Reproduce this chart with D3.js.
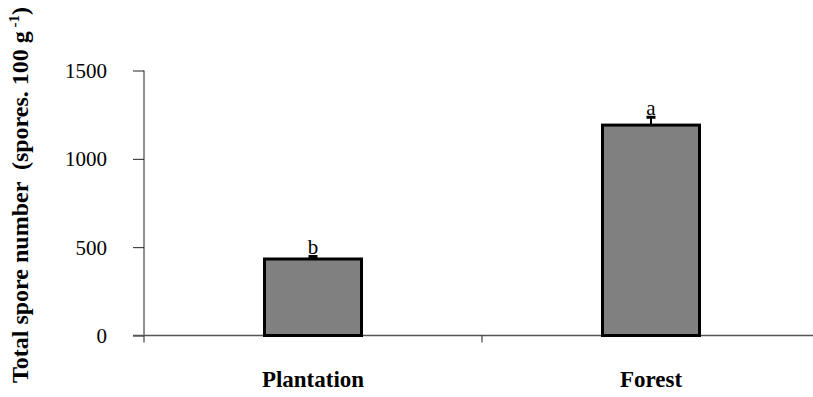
<!DOCTYPE html>
<html>
<head>
<meta charset="utf-8">
<script src="https://cdn.jsdelivr.net/npm/d3@7"></script>
<style>
  body { margin: 0; background: #fff; }
</style>
</head>
<body>
<div id="chart"></div>
<script>
var categories = ["Plantation", "Forest"];
var values = [433, 1191];
var errors = [20, 50];
var letters = ["b", "a"];
var yTicks = [0, 500, 1000, 1500];

var width = 813, height = 397;
var mLeft = 144, mRight = 820, mTop = 70.5, mBottom = 335.5;
var serif = "'Liberation Serif'";

var svg = d3.select("#chart").append("svg")
  .attr("width", width)
  .attr("height", height);

var x = d3.scaleBand().domain(categories).range([mLeft, mRight]);
var y = d3.scaleLinear().domain([0, 1500]).range([mBottom, mTop]);
var barW = 97;

// y axis
var yAxis = svg.append("g")
  .attr("transform", "translate(" + mLeft + ",0)")
  .call(d3.axisLeft(y).tickValues(yTicks).tickFormat(d3.format("d")).tickSize(11).tickPadding(26).tickSizeOuter(0));
yAxis.attr("font-family", "Liberation Serif");
yAxis.select(".domain").attr("stroke", "#222").attr("d", "M0," + mTop + "V" + (mBottom + 7));
yAxis.selectAll(".tick line").attr("stroke", "#222");
yAxis.selectAll(".tick text").attr("font-size", 21).attr("fill", "#000")
  .style("font-family", serif).attr("dy", "0.34em");

// x axis
var xAxis = svg.append("g")
  .attr("transform", "translate(0," + mBottom + ")");
xAxis.append("line").attr("x1", mLeft - 11).attr("x2", width).attr("y1", 0).attr("y2", 0)
  .attr("stroke", "#555").attr("stroke-width", 1.5);
xAxis.selectAll(".sep")
  .data(categories.slice(1))
  .enter().append("line")
  .attr("x1", function(d) { return x(d); })
  .attr("x2", function(d) { return x(d); })
  .attr("y1", 0).attr("y2", 7)
  .attr("stroke", "#222");
xAxis.selectAll(".lab")
  .data(categories)
  .enter().append("text")
  .attr("x", function(d) { return x(d) + x.bandwidth() / 2; })
  .attr("y", 51)
  .attr("text-anchor", "middle")
  .attr("font-size", 23)
  .attr("font-weight", "bold")
  .style("font-family", serif)
  .text(function(d) { return d; });

// bars
svg.selectAll(".bar")
  .data(categories)
  .enter().append("rect")
  .attr("x", function(d) { return x(d) + x.bandwidth() / 2 - barW / 2; })
  .attr("y", function(d, i) { return y(values[i]); })
  .attr("width", barW)
  .attr("height", function(d, i) { return y(0) - y(values[i]); })
  .attr("fill", "#808080")
  .attr("stroke", "#000")
  .attr("stroke-width", 3);

// error bars (upper only)
categories.forEach(function(c, i) {
  var cx = x(c) + x.bandwidth() / 2;
  svg.append("line")
    .attr("x1", cx).attr("x2", cx)
    .attr("y1", y(values[i])).attr("y2", y(values[i] + errors[i]))
    .attr("stroke", "#000").attr("stroke-width", 2);
  svg.append("line")
    .attr("x1", cx - 4.5).attr("x2", cx + 4.5)
    .attr("y1", y(values[i] + errors[i]) + 1).attr("y2", y(values[i] + errors[i]) + 1)
    .attr("stroke", "#000").attr("stroke-width", 3);
  svg.append("text")
    .attr("x", cx)
    .attr("y", y(values[i] + errors[i]) - 1)
    .attr("text-anchor", "middle")
    .attr("font-size", 21)
    .style("font-family", serif)
    .text(letters[i]);
});

// y label
var yl = svg.append("text")
  .attr("transform", "translate(28," + 195 + ") rotate(-90)")
  .attr("text-anchor", "middle")
  .attr("font-size", 24)
  .attr("font-weight", "bold")
  .style("font-family", serif)
  .style("white-space", "pre");
yl.append("tspan").text("Total spore number  (spores. 100 g");
yl.append("tspan").attr("dy", -9).attr("font-size", 15).text(" -1");
yl.append("tspan").attr("dy", 9).text(")");
</script>
</body>
</html>
